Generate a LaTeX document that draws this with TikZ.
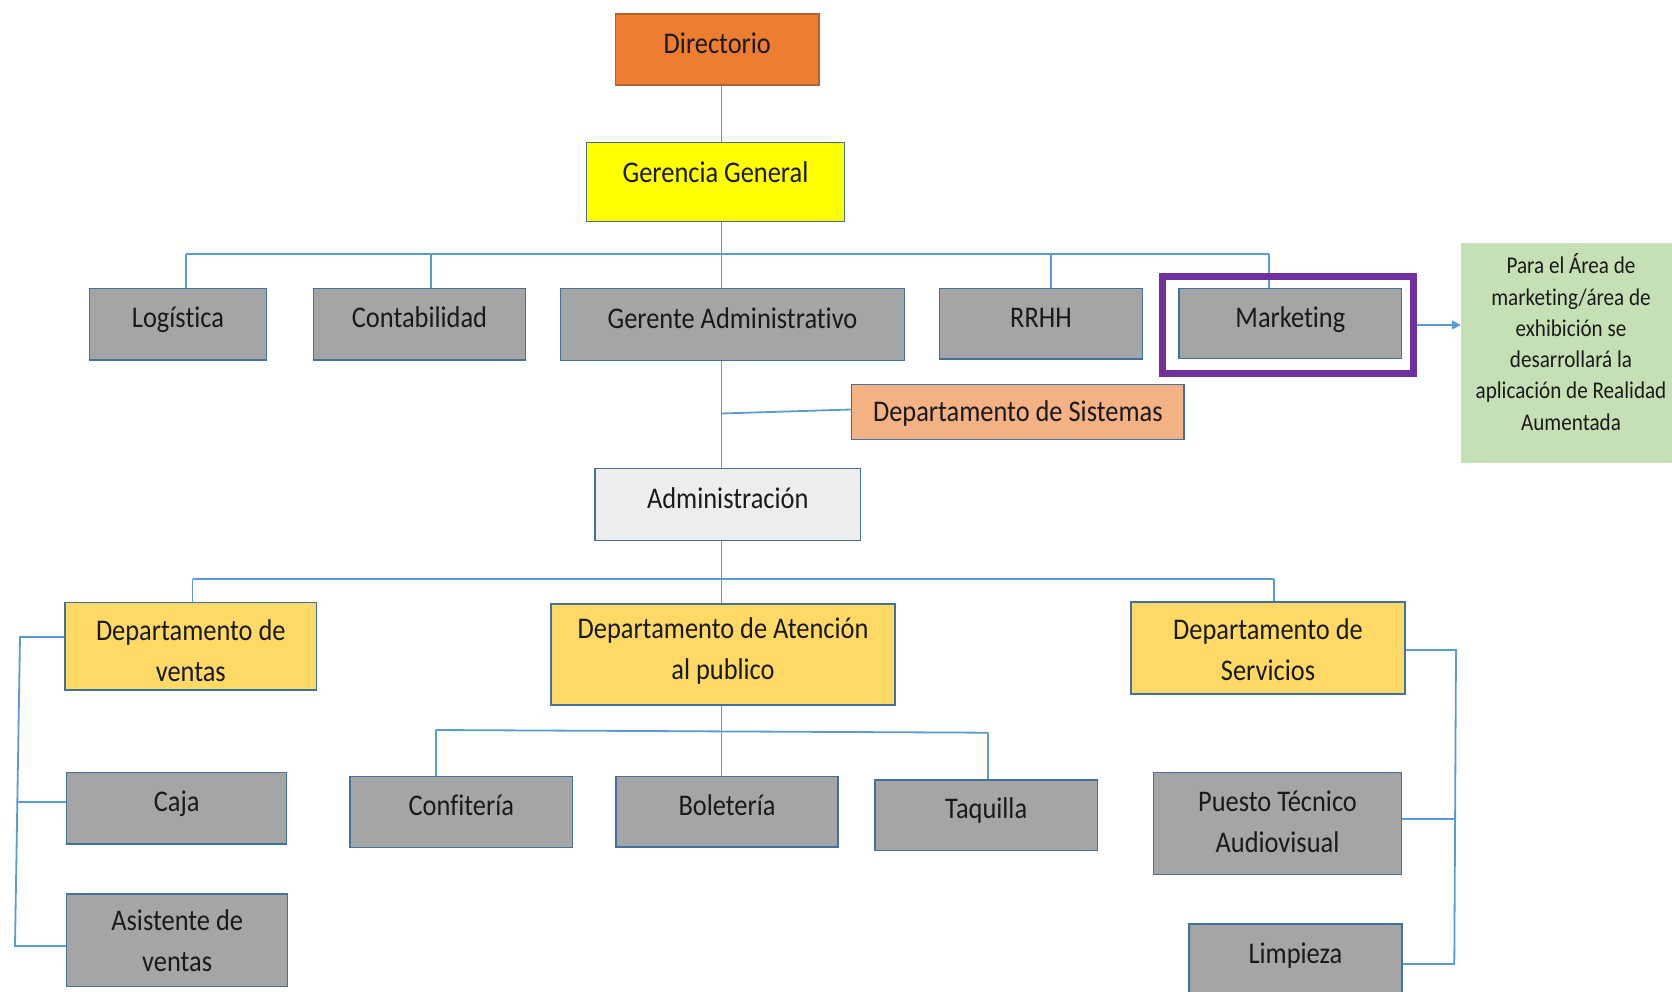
\documentclass[tikz,border=0pt]{standalone}
\usepackage{fontspec}
\setmainfont{Carlito}[FakeStretch=0.88, Ligatures=NoCommon]
\usetikzlibrary{arrows.meta,calc}

\definecolor{link}{HTML}{5B9BD5}
\definecolor{boxline}{HTML}{41719C}
\definecolor{grayfill}{HTML}{A5A5A5}
\definecolor{deptfill}{HTML}{FFD966}
\definecolor{dirfill}{HTML}{ED7D31}
\definecolor{dirline}{HTML}{B5622A}
\definecolor{genfill}{HTML}{FFFF00}
\definecolor{sisfill}{HTML}{F4B183}
\definecolor{admfill}{HTML}{EDEDED}
\definecolor{notefill}{HTML}{C5E0B4}
\definecolor{framecol}{HTML}{7030A0}
\definecolor{txt}{HTML}{1A1A1A}

\tikzset{
  sz/.style 2 args={minimum width=#1pt, minimum height=#2pt},
  box/.style={draw=boxline, line width=1.5pt, text=txt, align=center,
    inner sep=0pt, font=\fontsize{30}{41}\selectfont},
  gbox/.style={box, fill=grayfill},
  ybox/.style={box, fill=deptfill},
  oneline/.style={text height=20pt, text depth=13pt},
  conn/.style={draw=link, line width=1.8pt},
}

\begin{document}
\begin{tikzpicture}[x=1pt, y=-1pt]
\useasboundingbox (0,0) rectangle (1672,991);
\clip (0,0) rectangle (1672,991);

% top of the chart
\node[box, fill=dirfill, draw=dirline, oneline, sz={203.3}{71}] (dir) at (717.3,49.5) {Directorio};
\node[box, fill=genfill, text height=20pt, text depth=19pt, sz={257.6}{79.4}] (ger) at (715.5,182) {Gerencia General};

% first level
\node[gbox, oneline, sz={177.4}{71.7}] (log)  at (178,324.2)   {Logística};
\node[gbox, oneline, sz={212.4}{71.7}] (cont) at (419.5,324.2) {Contabilidad};
\node[gbox, oneline, sz={343.6}{72.4}] (gadm) at (732.5,324.5) {Gerente Administrativo};
\node[gbox, oneline, sz={203.4}{70.7}] (rrhh) at (1041,323.7)  {RRHH};
\node[gbox, text height=20pt, text depth=11pt, sz={222.7}{70}] (mkt) at (1290.3,323.3) {Marketing};

\node[box, fill=sisfill, text height=20pt, text depth=1pt, sz={332.3}{55.3}] (sis) at (1017.8,412) {Departamento de Sistemas};
\node[box, fill=admfill, oneline, sz={265.7}{72.4}] (adm) at (727.8,504.5) {Administración};

% departments
\node[ybox, text height=70pt, text depth=0pt, sz={251.7}{87.3}] (ven) at (190.8,646.3) {Departamento de\\ventas};
\node[ybox, text depth=12pt, sz={344}{101}] (ate) at (723,654.5) {Departamento de Atención\\al publico};
\node[ybox, text height=64pt, text depth=0pt, sz={274}{92}] (ser) at (1268,648) {Departamento de\\Servicios};

% units
\node[gbox, oneline, sz={220}{71.3}]   (caja) at (176.7,808.3) {Caja};
\node[gbox, sz={221}{92.7}]            (asis) at (177.2,940.3) {Asistente de\\ventas};
\node[gbox, oneline, sz={222.7}{70.6}] (conf) at (461.3,812)   {Confitería};
\node[gbox, oneline, sz={222}{70.5}]   (bol)  at (727,811.8)   {Boletería};
\node[gbox, oneline, sz={222.3}{70.7}] (taq)  at (986.2,815.3) {Taquilla};
\node[gbox, text depth=4pt, sz={248.4}{101.6}] (pue) at (1277.5,823.5) {Puesto Técnico\\Audiovisual};
\node[gbox, oneline, sz={212.7}{71.7}] (lim)  at (1295.4,960)  {Limpieza};

% side note
\node[fill=notefill, sz={220}{220.6}, inner sep=0pt, align=center, text=txt,
  font=\fontsize{24}{31.3}\selectfont, text depth=22pt] (note) at (1571,353)
  {Para el Área de\\marketing/área de\\exhibición se\\desarrollará la\\aplicación de Realidad\\Aumentada};

% connector guide points
\coordinate (spine) at (721.5,0);
\coordinate (dl) at (186,254);
\coordinate (dc) at (430.7,254);
\coordinate (dr) at (1050.7,254);
\coordinate (dm) at (1269,254);
\coordinate (bv) at (192.5,579);
\coordinate (bs) at (1274.3,579);
\coordinate (bc) at (435.7,730);
\coordinate (bt) at (988.3,732.7);
\coordinate (lb1) at (20,637);
\coordinate (lbc) at (17,801.7);
\coordinate (lb2) at (15,946);
\coordinate (rb1) at (1456,650);
\coordinate (rbp) at (1455.2,819.3);
\coordinate (rb2) at (1454.3,964);

% main spine
\draw[conn] (spine |- dir.south) -- (spine |- ger.north);
\draw[conn] (spine |- ger.south) -- (spine |- gadm.north);
\draw[conn] (spine |- gadm.south) -- (spine |- adm.north);
\draw[conn] (spine |- adm.south) -- (spine |- ate.north);
\draw[conn] ($(spine |- sis.west)+(0,1.5)$) -- ($(sis.west)+(0,-2.5)$);

% first-level bar
\draw[conn] (dl) -- (dm);
\draw[conn] (dl) -- (dl |- log.north);
\draw[conn] (dc) -- (dc |- cont.north);
\draw[conn] (dr) -- (dr |- rrhh.north);
\draw[conn] (dm) -- (dm |- mkt.north);

% department bar
\draw[conn] (bv) -- (bs);
\draw[conn] (bv) -- (bv |- ven.north);
\draw[conn] (bs) -- (bs |- ser.north);

% attention units
\draw[conn] (spine |- ate.south) -- (spine |- bol.north);
\draw[conn] (bc) -- (bt);
\draw[conn] (bc) -- (bc |- conf.north);
\draw[conn] (bt) -- (bt |- taq.north);

% sales bracket
\draw[conn] (lb1 -| ven.west) -- (lb1) -- (lb2) -- (lb2 -| asis.west);
\draw[conn] (lbc) -- (lbc -| caja.west);

% services bracket
\draw[conn] (rb1 -| ser.east) -- (rb1) -- (rb2) -- (rb2 -| lim.east);
\draw[conn] (rbp -| pue.east) -- (rbp);

% highlight around Marketing
\node[draw=framecol, line width=6.7pt, sz={250.6}{96.6}, inner sep=0pt] (mark) at (1288,325) {};
\draw[conn, line width=1.5pt, -{Triangle[length=9pt,width=9pt]}] (mark.east) -- (note.west |- mark.east);
\end{tikzpicture}
\end{document}
